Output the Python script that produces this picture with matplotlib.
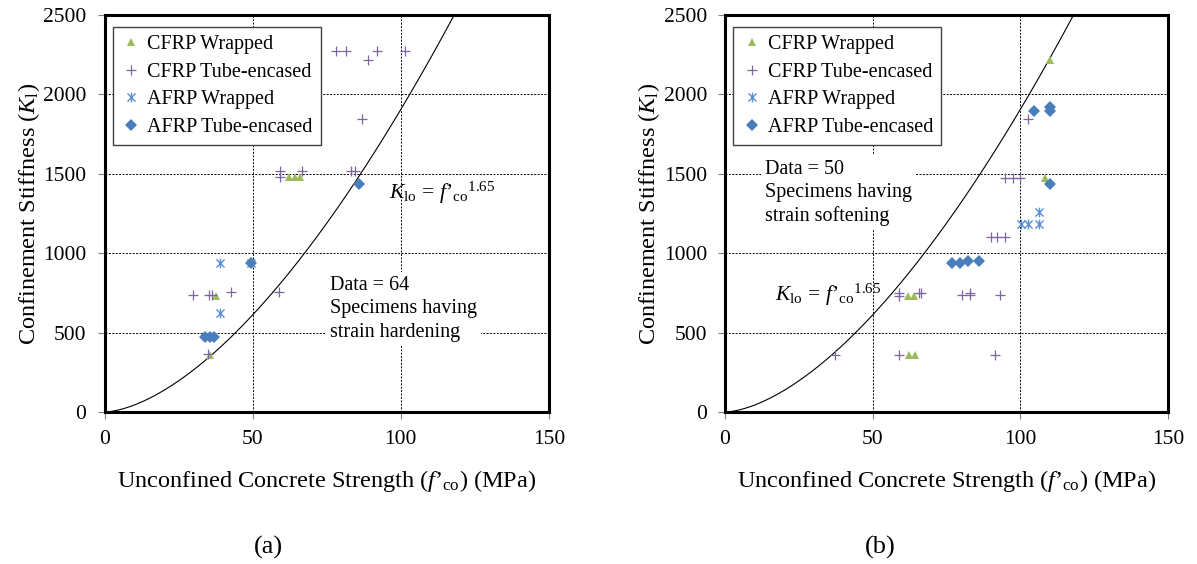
import numpy as np
import matplotlib
matplotlib.use("Agg")
import matplotlib.pyplot as plt
from matplotlib.path import Path

plt.rcParams['font.family'] = ['Liberation Serif', 'DejaVu Serif']
plt.rcParams['mathtext.fontset'] = 'custom'
plt.rcParams['mathtext.rm'] = 'Liberation Serif'
plt.rcParams['mathtext.it'] = 'Liberation Serif:italic'
plt.rcParams['mathtext.bf'] = 'Liberation Serif:bold'

# ---------------- data ----------------
series_names = ["CFRP Wrapped", "CFRP Tube-encased", "AFRP Wrapped", "AFRP Tube-encased"]

# (a) strain hardening
cfrp_wrapped_a_x = [62.3, 64.2, 65.9, 37.7, 35.5]
cfrp_wrapped_a_y = [1477, 1477, 1477, 731, 361]
cfrp_tube_a_x = [78.0, 81.6, 91.8, 101.5, 89.0, 87.0, 59.1, 59.1, 66.6, 83.3, 84.6,
                 29.8, 35.3, 36.4, 42.8, 58.9, 34.8]
cfrp_tube_a_y = [2275, 2275, 2275, 2275, 2214, 1845, 1519, 1481, 1515, 1515, 1515,
                 736, 736, 736, 754, 754, 363]
afrp_wrapped_a_x = [38.9, 49.5, 38.9]
afrp_wrapped_a_y = [941, 941, 626]
afrp_tube_a_x = [85.9, 49.5, 33.8, 35.5, 36.9]
afrp_tube_a_y = [1437, 941, 473, 473, 473]

# (b) strain softening
cfrp_wrapped_b_x = [110.2, 108.2, 62.0, 64.0, 62.3, 64.5]
cfrp_wrapped_b_y = [2214, 1475, 731, 731, 361, 361]
cfrp_tube_b_x = [102.6, 94.9, 97.5, 99.8, 89.9, 92.2, 94.7, 59.0, 59.0, 65.6, 66.5,
                 80.3, 83.1, 83.1, 93.2, 37.2, 59.0, 91.4]
cfrp_tube_b_y = [1845, 1475, 1475, 1475, 1101, 1101, 1101, 752, 731, 752, 752,
                 735, 752, 735, 735, 361, 361, 361]
afrp_wrapped_b_x = [106.2, 100.1, 102.6, 106.2]
afrp_wrapped_b_y = [1258, 1183, 1183, 1183]
afrp_tube_b_x = [104.5, 109.9, 109.9, 110.1, 77.0, 79.5, 82.3, 85.9]
afrp_tube_b_y = [1893, 1918, 1893, 1437, 941, 941, 954, 954]

curve_exponent = 1.64   # as drawn in the picture (label reads 1.65)
x_ticks = [0, 50, 100, 150]
y_ticks = [0, 500, 1000, 1500, 2000, 2500]
panel_labels = ["(a)", "(b)"]
data_texts = ["Data = 64\nSpecimens having\nstrain hardening",
              "Data = 50\nSpecimens having\nstrain softening"]

# ---------------- style ----------------
star_path = Path([(-1, -1), (1, 1), (-1, 1), (1, -1), (0, -1.2), (0, 1.2)],
                 [Path.MOVETO, Path.LINETO, Path.MOVETO, Path.LINETO, Path.MOVETO, Path.LINETO])
styles = [
    dict(marker='^', color='#9BBB59', markersize=6, mew=0),
    dict(marker='+', color='#8064A2', markersize=7, mew=0.9),
    dict(marker=star_path, color='#5B8FD3', markersize=7, mew=1.0),
    dict(marker='D', color='#4A7EBB', markersize=6, mew=0),
]

W, H = 1197, 564
fig = plt.figure(figsize=(W / 100, H / 100), dpi=100)

panels = [
    dict(left=104.5, right=549, data=[(cfrp_wrapped_a_x, cfrp_wrapped_a_y), (cfrp_tube_a_x, cfrp_tube_a_y),
                                      (afrp_wrapped_a_x, afrp_wrapped_a_y), (afrp_tube_a_x, afrp_tube_a_y)],
         text_pos=(76, 855), eq_pos=(96.0, 1379), label_x=268),
    dict(left=725, right=1168, data=[(cfrp_wrapped_b_x, cfrp_wrapped_b_y), (cfrp_tube_b_x, cfrp_tube_b_y),
                                     (afrp_wrapped_b_x, afrp_wrapped_b_y), (afrp_tube_b_x, afrp_tube_b_y)],
         text_pos=(13.5, 1590), eq_pos=(16.9, 740), label_x=880),
]
top_px, bot_px = 15, 412
PRIME = "\u2019"
eq_text = r"$K_{\mathrm{lo}}\,=\,{f" + PRIME + r"}_{\mathrm{co}}{}^{1.65}$"
xlabel_text = r"Unconfined Concrete Strength (${f" + PRIME + r"}_{\mathrm{co}}$) (MPa)"

for i, p in enumerate(panels):
    ax = fig.add_axes([p['left'] / W, 1 - bot_px / H, (p['right'] - p['left']) / W, (bot_px - top_px) / H])
    ax.set_xlim(0, 150)
    ax.set_ylim(0, 2500)
    ax.set_xticks(x_ticks)
    ax.set_yticks(y_ticks)
    ax.grid(True, color='black', linestyle=(0, (2, 1.5)), linewidth=0.7)
    ax.set_axisbelow(True)
    for s in ax.spines.values():
        s.set_linewidth(2.2)
        s.set_color('black')
    ax.tick_params(direction='out', length=5, width=0.8, color='#808080', labelsize=15.5, pad=8)

    f = np.linspace(0, 150, 400)
    ax.plot(f, f ** curve_exponent, color='black', linewidth=0.8, zorder=2)

    for (xs, ys), name, st in zip(p['data'], series_names, styles):
        ax.plot(xs, ys, linestyle='none', label=name, zorder=3, **st)

    leg = ax.legend(loc='upper left', bbox_to_anchor=(0.019, 0.97), borderaxespad=0,
                    fontsize=14.5, frameon=True, fancybox=False, framealpha=1,
                    edgecolor='#404040', handlelength=1.0, handletextpad=0.3,
                    labelspacing=0.42, borderpad=0.4, markerscale=1.0)
    leg.get_frame().set_linewidth(1.0)
    leg.set_zorder(5)

    ax.text(p['text_pos'][0], p['text_pos'][1], data_texts[i], fontsize=14.5, va='top', ha='left',
            linespacing=1.3, zorder=4,
            bbox=dict(facecolor='white', edgecolor='none', pad=3))
    ax.text(p['eq_pos'][0], p['eq_pos'][1], eq_text,
            fontsize=15.5, va='center', ha='left', zorder=4)

    ax.set_xlabel(xlabel_text, fontsize=17.5, labelpad=14)
    ax.set_ylabel(r"Confinement Stiffness ($K_{\mathrm{l}}$)", fontsize=17.5, labelpad=1)

    fig.text(p['label_x'] / W, 1 - 547 / H, panel_labels[i], fontsize=19, ha='center', va='center')

fig.savefig("out.png", dpi=100)
